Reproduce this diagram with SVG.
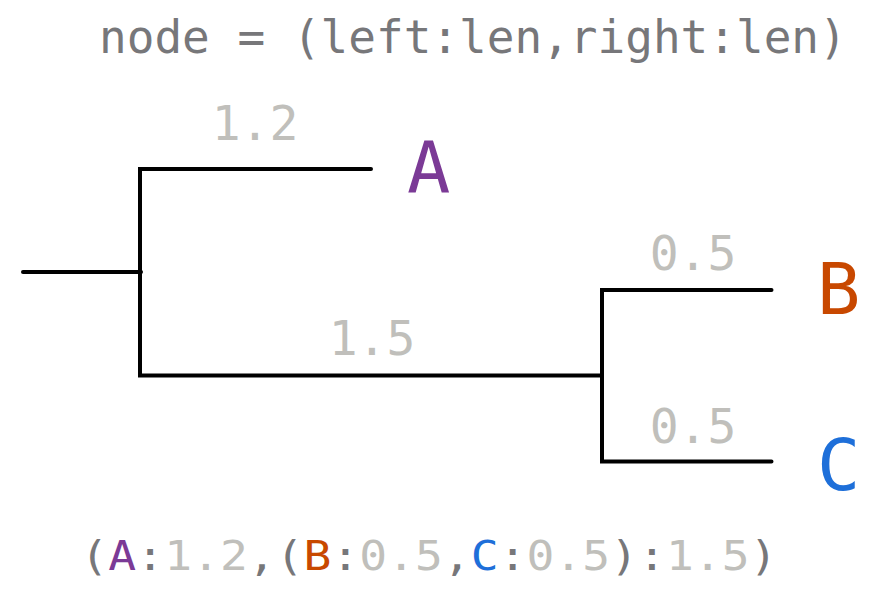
<svg xmlns="http://www.w3.org/2000/svg" width="871" height="593" viewBox="0 0 871 593">
<style>
.t{font-family:"DejaVu Sans Mono","Liberation Mono",monospace}
.title{font-size:46px;fill:#77777a}
.len{font-size:48px;fill:#c0bfbb;text-anchor:middle}
.leaf{font-size:72px}
.br{fill:none;stroke:#000;stroke-width:4;stroke-linecap:round;stroke-linejoin:miter}
.g{fill:#77777a}.l{fill:#c0bfbb}.a{fill:#7b3a96}.b{fill:#c84800}.c{fill:#1e6fd9}
</style>
<rect width="871" height="593" fill="#fff"/>
<text class="t title" x="99" y="52.7">node = (left:len,right:len)</text>
<g id="connectors">
<path class="br" d="M23,272 H141"/>
<path class="br" d="M371,169 H140 V375.5 H602"/>
<path class="br" d="M771.5,290 H602 V461.5 H771.5"/>
</g>
<g id="len-A"><text class="t len" x="255" y="140">1.2</text></g>
<g id="len-BC"><text class="t len" x="372" y="355">1.5</text></g>
<g id="len-B"><text class="t len" x="693" y="270">0.5</text></g>
<g id="len-C"><text class="t len" x="693" y="443">0.5</text></g>
<g id="node-A"><text class="t leaf a" x="407" y="193.3">A</text></g>
<g id="node-B"><text class="t leaf b" x="817" y="314.3">B</text></g>
<g id="node-C"><text class="t leaf c" x="817" y="490">C</text></g>
<g id="newick"><text class="t" font-size="40" x="80.5" y="569.5" textLength="697" lengthAdjust="spacingAndGlyphs"><tspan class="g">(</tspan><tspan class="a">A</tspan><tspan class="g">:</tspan><tspan class="l">1.2</tspan><tspan class="g">,(</tspan><tspan class="b">B</tspan><tspan class="g">:</tspan><tspan class="l">0.5</tspan><tspan class="g">,</tspan><tspan class="c">C</tspan><tspan class="g">:</tspan><tspan class="l">0.5</tspan><tspan class="g">):</tspan><tspan class="l">1.5</tspan><tspan class="g">)</tspan></text></g>
</svg>
